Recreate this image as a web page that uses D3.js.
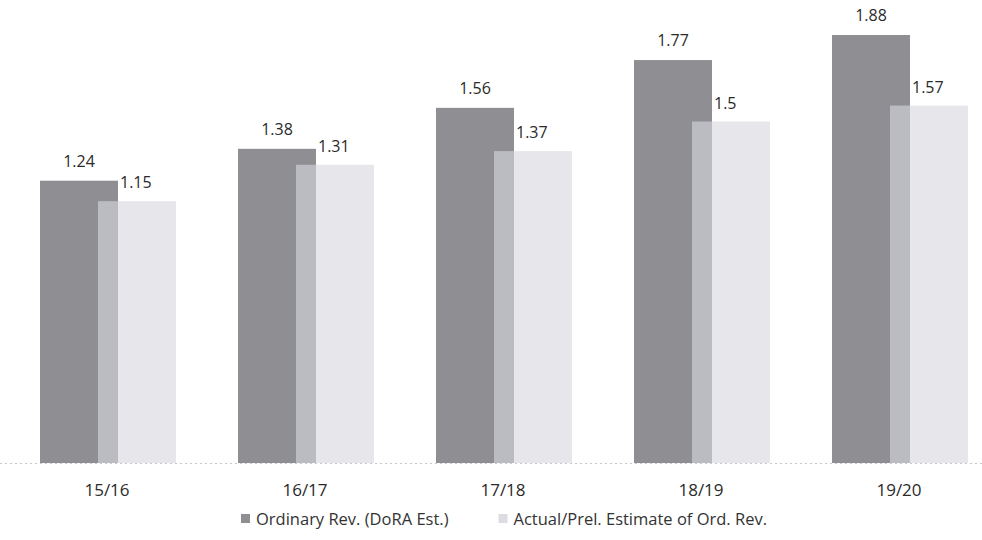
<!DOCTYPE html>
<html><head><meta charset="utf-8">
<script src="https://cdn.jsdelivr.net/npm/d3@7"></script>
<style>body{margin:0;background:#fff}svg{display:block}</style>
</head><body>
<svg id="c" width="982" height="540"></svg>
<script>
const categories = ["15/16","16/17","17/18","18/19","19/20"];
const ordinaryRev = [1.24,1.38,1.56,1.77,1.88];
const actualRev = [1.15,1.31,1.37,1.5,1.57];
const seriesNames = ["Ordinary Rev. (DoRA Est.)","Actual/Prel. Estimate of Ord. Rev."];

const svg = d3.select("#c");
const font = "'Open Sans', sans-serif";
const x = d3.scaleBand().domain(categories).range([9, 999]).padding(0);
const y = d3.scaleLinear().domain([0, 1.88]).range([463, 35]);
const bw = 78, off = 58;
const left = d => x(d) + x.bandwidth()/2 - (bw + off)/2;

// baseline
svg.append("line").attr("x1",0).attr("x2",982).attr("y1",y(0)+0.5).attr("y2",y(0)+0.5)
  .attr("stroke","#c8c8cc").attr("stroke-dasharray","2,3");

const g = svg.append("g");
g.selectAll(".d").data(categories).enter().append("rect")
  .attr("x", d=>left(d)).attr("width", bw)
  .attr("y", (d,i)=>y(ordinaryRev[i])).attr("height",(d,i)=>y(0)-y(ordinaryRev[i]))
  .attr("fill","#8e8e93");
g.selectAll(".l").data(categories).enter().append("rect")
  .attr("x", d=>left(d)+off).attr("width", bw)
  .attr("y", (d,i)=>y(actualRev[i])).attr("height",(d,i)=>y(0)-y(actualRev[i]))
  .attr("fill","#d6d6de").attr("fill-opacity",0.62);

g.selectAll(".dl").data(categories).enter().append("text")
  .attr("x", d=>left(d)+bw/2).attr("y",(d,i)=>y(ordinaryRev[i])-14)
  .attr("text-anchor","middle").attr("font-family",font).attr("font-size",16).attr("fill","#2a2a2a")
  .text((d,i)=>ordinaryRev[i]);
g.selectAll(".ll").data(categories).enter().append("text")
  .attr("x", d=>left(d)+bw+2).attr("y",(d,i)=>y(actualRev[i])-13)
  .attr("text-anchor","start").attr("font-family",font).attr("font-size",16).attr("fill","#2a2a2a")
  .text((d,i)=>actualRev[i]);

// x axis
const ax = svg.append("g").attr("transform","translate(0,474)")
  .call(d3.axisBottom(x).tickSize(0).tickPadding(10));
ax.select(".domain").remove();
ax.selectAll("text").attr("font-family",font).attr("font-size",17).attr("fill","#2a2a2a")
  .attr("dx",-1);

// legend (centred under plot)
const leg = svg.append("g").attr("font-family",font).attr("font-size",16.5).attr("fill","#333");
const colors = ["#8e8e93","#dcdce2"];
const parts = seriesNames.map((t,i)=>{
  const gg = leg.append("g");
  gg.append("rect").attr("x",0).attr("y",-11).attr("width",9).attr("height",9).attr("fill",colors[i]);
  const tx = gg.append("text").attr("x",15).attr("y",0).attr("fill","#333").text(t);
  return {gg, w: 15 + tx.node().getComputedTextLength()};
});
const gap = 50;
const total = parts[0].w + gap + parts[1].w;
let cx = 504 - total/2;
parts.forEach(p=>{ p.gg.attr("transform",`translate(${cx},525)`); cx += p.w + gap; });
</script>
</body></html>
